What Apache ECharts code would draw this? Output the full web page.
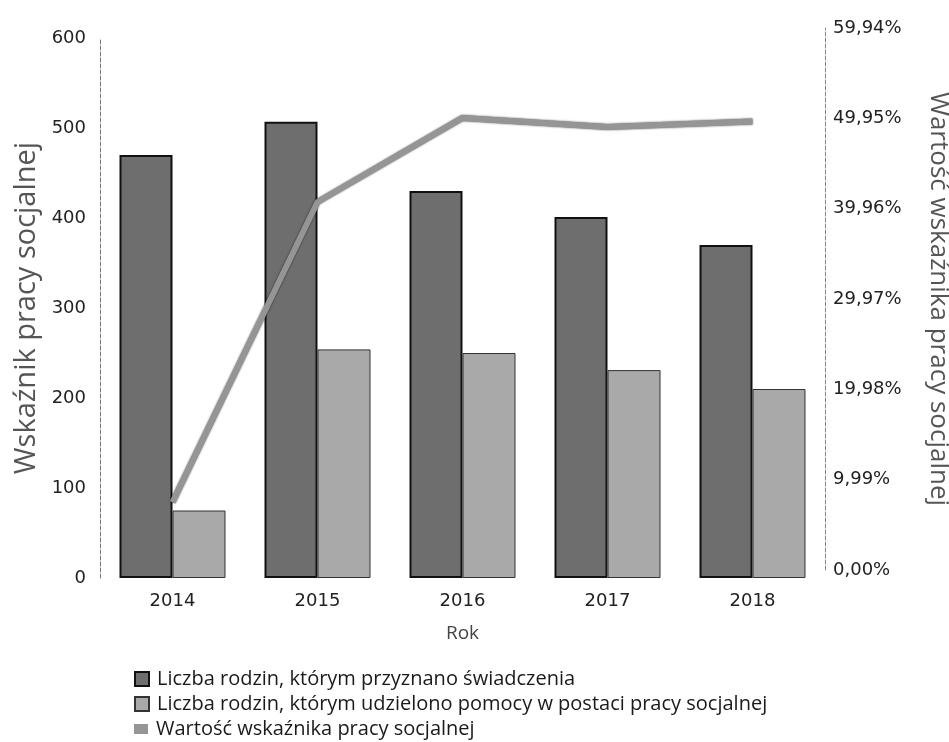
<!DOCTYPE html>
<html>
<head>
<meta charset="utf-8">
<script src="https://cdn.jsdelivr.net/npm/echarts@6/dist/echarts.min.js"></script>
<style>
  html, body { margin: 0; padding: 0; background: #fff; }
  #chart { width: 949px; height: 742px; }
</style>
</head>
<body>
<div id="chart"></div>
<script>
const years = ['2014', '2015', '2016', '2017', '2018']
const rodzinySwiadczenia = [470, 507, 430, 401, 370]
const rodzinyPraca = [75, 254, 250, 231, 210]
const wskaznik = [7.5, 40.7, 50.0, 49.0, 49.6]

const percentTicks = { min: 0, max: 59.94, interval: 9.99 }

const seriesNames = [
  'Liczba rodzin, którym przyznano świadczenia',
  'Liczba rodzin, którym udzielono pomocy w postaci pracy socjalnej',
  'Wartość wskaźnika pracy socjalnej',
]

const font = '"DejaVu Sans", Verdana, sans-serif'
const legendTops = [664, 689, 714]

const chart = echarts.init(document.getElementById('chart'))

// one legend per row, so they stack like the original
const legends = seriesNames.map((name, i) => ({
  data: [name],
  left: 129,
  top: legendTops[i],
  itemWidth: 14,
  itemHeight: i === 2 ? 10 : 14,
  itemGap: 0,
  icon: 'rect',
  textStyle: { color: '#1a1a1a', fontSize: 20, fontFamily: '"Open Sans", sans-serif', padding: [0, 0, 0, 3] },
}))

chart.setOption({
  animation: false,
  backgroundColor: '#fff',
  textStyle: { fontFamily: font },
  // the scan is slightly skewed: the right axis sits a few px higher than the left one
  grid: [
    { left: 100, right: 124, top: 38, bottom: 164, outerBoundsMode: 'none' },
    { left: 100, right: 124, top: 28, bottom: 172, outerBoundsMode: 'none' },
  ],
  legend: legends,
  xAxis: [
    {
      type: 'category',
      data: years,
      name: 'Rok',
      nameLocation: 'middle',
      nameGap: 46,
      nameTextStyle: { color: '#444', fontSize: 19, fontFamily: '"Open Sans", sans-serif' },
      axisLine: { show: false },
      axisTick: { show: false },
      axisLabel: { color: '#222', fontSize: 18, margin: 14 },
    },
    {
      type: 'category',
      gridIndex: 1,
      data: years,
      show: false,
    },
  ],
  yAxis: [
    {
      type: 'value',
      min: 0,
      max: 600,
      interval: 100,
      name: 'Wskaźnik pracy socjalnej',
      nameLocation: 'middle',
      nameGap: 55,
      nameTextStyle: { color: '#555', fontSize: 29, fontFamily: '"Open Sans", sans-serif' },
      axisLine: { show: true, lineStyle: { color: '#777', width: 1, type: 'dashed' } },
      axisTick: { show: false },
      splitLine: { show: false },
      axisLabel: { color: '#222', fontSize: 18, margin: 14 },
    },
    {
      type: 'value',
      gridIndex: 1,
      position: 'right',
      min: percentTicks.min,
      max: percentTicks.max,
      interval: percentTicks.interval,
      name: 'Wartość wskaźnika pracy socjalnej',
      nameLocation: 'middle',
      nameRotate: -90,
      nameGap: 100,
      nameTextStyle: { color: '#555', fontSize: 26, fontFamily: '"Open Sans", sans-serif' },
      axisLine: { show: true, lineStyle: { color: '#888', width: 1, type: 'dashed' } },
      axisTick: { show: false },
      splitLine: { show: false },
      axisLabel: {
        color: '#222',
        fontSize: 18,
        margin: 8,
        formatter: (v) => v.toFixed(2).replace('.', ',') + '%',
      },
    },
  ],
  series: [
    {
      name: seriesNames[0],
      type: 'bar',
      data: rodzinySwiadczenia,
      barWidth: 53,
      barGap: '0%',
      itemStyle: { color: '#6e6e6e', borderColor: '#111', borderWidth: 2 },
    },
    {
      name: seriesNames[1],
      type: 'bar',
      data: rodzinyPraca,
      barWidth: 53,
      itemStyle: { color: '#a9a9a9', borderColor: '#333', borderWidth: 1 },
    },
    {
      name: seriesNames[2],
      type: 'line',
      xAxisIndex: 1,
      yAxisIndex: 1,
      data: wskaznik,
      symbol: 'none',
      lineStyle: { color: '#959595', width: 6, shadowColor: 'rgba(0,0,0,0.7)', shadowBlur: 2 },
      itemStyle: { color: '#959595' },
    },
  ],
})
</script>
</body>
</html>
